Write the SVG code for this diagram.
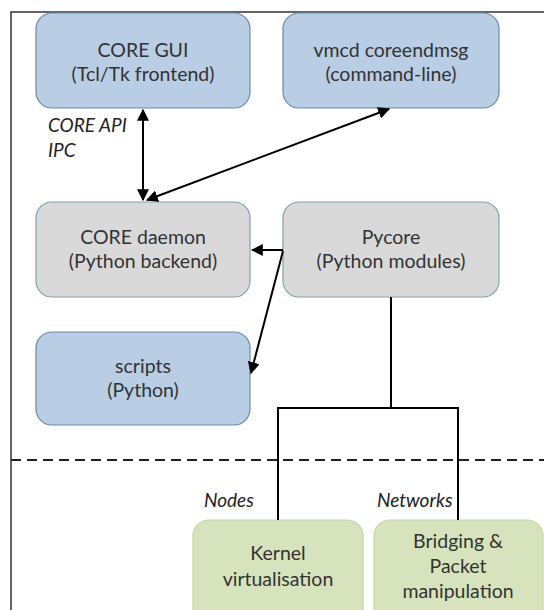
<svg xmlns="http://www.w3.org/2000/svg" width="544" height="610" viewBox="0 0 544 610">
<style>
.blue{fill:#b9cde4;stroke:#6a8caa;stroke-width:1.2}
.gray{fill:#d9d9d9;stroke:#7fa3ae;stroke-width:1.2}
.green{fill:#d6e3bc;stroke:#c4d6a0;stroke-width:1.2}
.t{font-family:Lato,"Liberation Sans",sans-serif;font-size:19.5px;fill:#333;text-anchor:middle}
.it{font-family:Lato,"Liberation Sans",sans-serif;font-size:19px;fill:#222;font-style:italic}
.c{stroke:#000;stroke-width:2;fill:none}
.line{stroke:#000;stroke-width:2;fill:none}
</style>
<defs>
<marker id="ah" viewBox="0 0 10 10" refX="9" refY="5" markerWidth="6" markerHeight="6" orient="auto-start-reverse" markerUnits="strokeWidth">
<path d="M0,0 L10,5 L0,10 z" fill="#000"/>
</marker>
</defs>
<rect width="544" height="610" fill="#fff"/>
<g id="frame">
<path d="M11,610 V12 H544" fill="none" stroke="#333" stroke-width="1.5"/>
<line x1="11" y1="460" x2="544" y2="460" stroke="#222" stroke-width="2" stroke-dasharray="10,6"/>
</g>
<g id="gui">
<rect class="blue" x="36" y="13" width="214" height="95" rx="16"/>
<text class="t" x="143" y="57">CORE GUI</text>
<text class="t" x="143" y="81">(Tcl/Tk frontend)</text>
</g>
<g id="vmcd">
<rect class="blue" x="283" y="13" width="216" height="95" rx="16"/>
<text class="t" x="391" y="57">vmcd coreendmsg</text>
<text class="t" x="391" y="81">(command-line)</text>
</g>
<g id="daemon">
<rect class="gray" x="36" y="202" width="214" height="95" rx="16"/>
<text class="t" x="143" y="244">CORE daemon</text>
<text class="t" x="143" y="268">(Python backend)</text>
</g>
<g id="pycore">
<rect class="gray" x="283" y="202" width="216" height="95" rx="16"/>
<text class="t" x="391" y="244">Pycore</text>
<text class="t" x="391" y="268">(Python modules)</text>
</g>
<g id="scripts">
<rect class="blue" x="36" y="332" width="214" height="93" rx="16"/>
<text class="t" x="143" y="373">scripts</text>
<text class="t" x="143" y="397">(Python)</text>
</g>
<g id="kernel">
<rect class="green" x="193" y="520" width="170" height="110" rx="16"/>
<text class="t" x="278" y="560">Kernel</text>
<text class="t" x="278" y="586">virtualisation</text>
</g>
<g id="bridging">
<rect class="green" x="374" y="520" width="169" height="110" rx="16"/>
<text class="t" x="458" y="548">Bridging &amp;</text>
<text class="t" x="458" y="573">Packet</text>
<text class="t" x="458" y="598">manipulation</text>
</g>
<g id="labels">
<text class="it" x="48" y="132">CORE API</text>
<text class="it" x="48" y="157">IPC</text>
<text class="it" x="204" y="507">Nodes</text>
<text class="it" x="377" y="507">Networks</text>
</g>
<g id="connectors">
<line class="c" x1="143" y1="110" x2="143" y2="200" marker-start="url(#ah)" marker-end="url(#ah)"/>
<line class="c" x1="147" y1="200" x2="389" y2="109" marker-start="url(#ah)" marker-end="url(#ah)"/>
<line class="c" x1="283" y1="250" x2="252" y2="250" marker-end="url(#ah)"/>
<line class="c" x1="283" y1="251" x2="251" y2="373" marker-end="url(#ah)"/>
<path class="line" d="M391,297 V408 M278,408 H458 M278,407 V520 M458,407 V520"/>
</g>
</svg>
